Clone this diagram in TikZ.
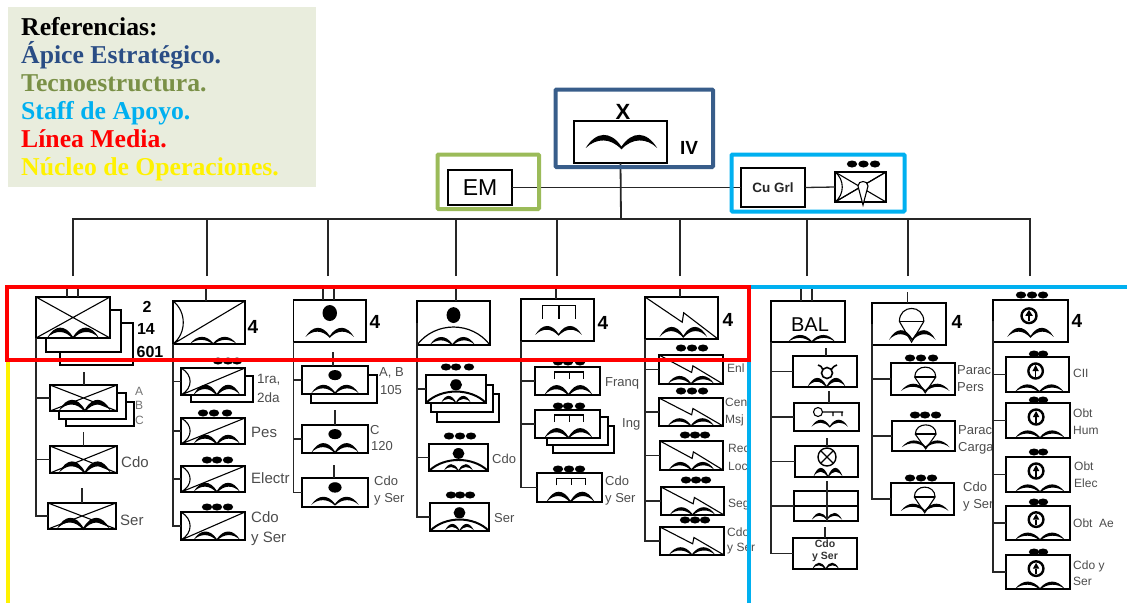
\documentclass[tikz,border=0pt]{standalone}
\usepackage{fontspec}
\setmainfont{Liberation Sans}
\newfontfamily\legendfont{Liberation Serif}
\usetikzlibrary{calc,positioning}
\definecolor{legendbg}{HTML}{E9EDDD}
\definecolor{apice}{HTML}{385D8A}
\definecolor{apicetext}{HTML}{2A4D85}
\definecolor{tecno}{HTML}{9BBB59}
\definecolor{tecnotext}{HTML}{7A9047}
\definecolor{staff}{HTML}{00B0F0}
\tikzstyle{unitbox} = [draw=black, line width=1.4pt, inner sep=0pt, outer sep=0pt]
\tikzstyle{conn}    = [draw=black!85, line width=1.3pt]
\tikzstyle{thin}    = [draw=black, line width=1.1pt]
\tikzstyle{frame}   = [line width=4pt, rounded corners=1pt]
\tikzstyle{lbl}     = [font=\fontsize{13}{17}\selectfont, text=black!70, inner sep=0pt, anchor=west, align=left]
\tikzstyle{tag}     = [font=\bfseries\fontsize{19}{19}\selectfont, inner sep=0pt]
\tikzstyle{refs}    = [font=\legendfont\bfseries\fontsize{25.7}{26}\selectfont, inner sep=0pt, anchor=base west]
% box given by its left, top, right and bottom pixel
\newcommand{\unit}[5]{%
  \pgfmathsetmacro\ucx{(#2+#4)/2}\pgfmathsetmacro\ucy{(#3+#5)/2}%
  \pgfmathsetmacro\uhw{(#4-#2)/2}\pgfmathsetmacro\uhh{(#5-#3)/2}%
  \def\uname{#1}%
  \node[unitbox, minimum width={2*\uhw*1pt}, minimum height={2*\uhh*1pt}] (#1) at (\ucx,\ucy) {};}
\newcommand{\inunit}[1]{\begin{scope}[shift={(\ucx,\ucy)},xscale=\uhw,yscale=\uhh]#1\end{scope}}
\newcommand{\unitstub}[2]{\coordinate (\uname t) at (#1,#2); \draw[conn] (\uname t) -- (\uname t |- \uname.north);}
\newcommand{\unitdots}[2]{\foreach \dotx in {#2} \fill (\dotx,#1) ellipse (5.2 and 3.5);}
% symbols, in the box's own -1..1 frame
\newcommand{\symarcs}[4]{\inunit{\begin{scope}[shift={(#1,#4)},xscale=#2,yscale={#4-#3}]
  \fill (-1,0) .. controls (-.7,-1.33) and (-.3,-1.33) .. (0,-.12) .. controls (.3,-1.33) and (.7,-1.33) .. (1,0)
    .. controls (.7,-.8) and (.3,-.8) .. (0,.1) .. controls (-.3,-.8) and (-.7,-.8) .. (-1,0) -- cycle;
  \end{scope}}}
\newcommand{\symcross}{\inunit{\draw[thin] (-1,-1) -- (1,1) (-1,1) -- (1,-1);}}
\newcommand{\symrecon}{\inunit{\draw[thin] (-1,1) -- (1,-1) (-1,-1) .. controls (-.62,-.5) and (-.62,.5) .. (-1,1);}}
\newcommand{\symdot}[3]{\inunit{\fill (0,#1) ellipse (#2 and #3);}}
\newcommand{\symbig}[1]{\inunit{\draw[thin, line width=#1] (-1,1) .. controls (-.5,-.09) and (.5,-.09) .. (1,1);}}
\newcommand{\symbridge}[3]{\inunit{\draw[thin] (#1-.45,#3) |- (#1+.45,#2) -- (#1+.45,#3) (#1,#2) -- (#1,#3);}}
\newcommand{\symbolt}{\inunit{\draw[thin] (-1,-1) -- (.02,.2) -- (.06,-.25) -- (1,1);}}
\newcommand{\sympara}{\inunit{\draw[thin] (-.26,-.12) .. controls (-.26,-.95) and (.4,-.95) .. (.4,-.12) -- (.07,.86) -- cycle;
  \draw[thin, line width=1.8pt] (-.26,-.12) -- (.4,-.12);}}
\newcommand{\symring}[4]{\inunit{\draw[thin, line width=2.4pt] (#1,#2) ellipse (#3 and #4);
  \draw[thin, line width=1.4pt] (#1,#2+.75*#4) -- (#1,#2);
  \fill (#1-.1,#2) -- (#1,#2-.8*#4) -- (#1+.1,#2) -- cycle;}}
\begin{document}
\begin{tikzpicture}[x=1pt,y=-1pt]
\useasboundingbox (0,0) rectangle (1127,603);

\fill[legendbg] (8,7) rectangle (316,187);
\node[refs] (lgref) at (21,35) {Referencias:};
\node[refs, text=apicetext] (lgapice) at (21,63) {Ápice Estratégico.};
\node[refs, text=tecnotext] (lgtecno) at (21,91.5) {Tecnoestructura.};
\node[refs, text=staff] (lgstaff) at (21,119) {Staff de Apoyo.};
\node[refs, text=red] (lglinea) at (21,147) {Línea Media.};
\node[refs, text=yellow] (lgnucleo) at (21,175) {Núcleo de Operaciones.};

% command
\unit{hq}{574}{121}{667}{163}
\symarcs{.02}{.77}{-.33}{.29}
\node[font=\bfseries\fontsize{22}{22}\selectfont, inner sep=0pt] (hqx) at (623,112) {X};
\node[font=\bfseries\fontsize{19}{19}\selectfont, inner sep=0pt] (hqiv) at (689,148) {IV};
\unit{em}{448}{170}{512}{205}
\node[font=\fontsize{23}{23}\selectfont, inner sep=0pt] (emtxt) at (480,188) {EM};
\unit{cugrl}{741}{168}{805}{207}
\node[font=\bfseries\fontsize{13.5}{14}\selectfont, text=black!85, inner sep=0pt] (cutxt) at (773,188) {Cu Grl};
\unit{cusym}{835}{172}{886}{202}
\symcross \symrecon
\unitdots{164}{852,863.5,875}
\draw[thin, fill=white] (858,186) .. controls (858,180) and (868,180) .. (868,186) -- (863,205) -- cycle;
\draw[conn] (em.east) -- (cugrl.west);
\draw[conn] (cugrl.east) -- (cusym.west);
\coordinate (bus) at (621,219);
\draw[conn, line width=1.8pt] (hq.south) -- (bus);
\foreach \n/\x in {1/73,2/207,3/328,4/456,5/557,6/680,7/807,8/908,9/1030}{
  \coordinate (drop\n) at (\x,276);
  \draw[conn] (drop\n) |- (bus);
}

% first column
\unit{c1}{36}{297}{110}{338}
\symcross \symarcs{0}{.7}{.5}{1}
\coordinate (c1l) at (67,287); \coordinate (c1r) at (78,287);
\draw[conn] (c1l) -- (c1l |- c1.north) (c1r) -- (c1r |- c1.north);
\draw[thin] (110,310) -| (121,352) -| (46,338) (121,323) -| (133,365) -| (60,352);
\node[tag, font=\bfseries\fontsize{16}{16}\selectfont] (c1n2) at (147,307) {2};
\node[tag, font=\bfseries\fontsize{16}{16}\selectfont] (c1n14) at (146,329) {14};
\node[tag, font=\bfseries\fontsize{16}{16}\selectfont] (c1n601) at (150,352) {601};
\unit{c1a}{50}{385}{117}{411}
\symcross \symarcs{.04}{.78}{.15}{1} \unitstub{84}{372}
\draw[thin] (117,393) -| (126,419) -| (59,411) (126,402) -| (134,426) -| (66,419);
\node[lbl, font=\fontsize{12}{12}\selectfont, text=black!55] (c1aa) at (135,391) {A};
\node[lbl, font=\fontsize{12}{12}\selectfont, text=black!55] (c1ab) at (135,405) {B};
\node[lbl, font=\fontsize{12}{12}\selectfont, text=black!55] (c1ac) at (135,420) {C};
\unit{c1b}{50}{446}{117}{473}
\symcross \symarcs{.04}{.78}{.15}{1} \unitstub{83.5}{432}
\node[lbl, font=\fontsize{15}{15}\selectfont] (c1bl) at (121,462) {Cdo};
\unit{c1c}{48}{503}{116}{529}
\symcross \symarcs{.04}{.78}{.15}{1} \unitstub{82}{488}
\node[lbl, font=\fontsize{15}{15}\selectfont] (c1cl) at (120,520) {Ser};
\foreach \s in {a,b,c} \draw[conn] (c1.south west) |- (c1\s.west);

% second column
\unit{c2}{173}{301}{245}{344}
\symrecon \symarcs{.12}{.65}{.67}{1} \unitstub{206}{287}
\node[tag] (c2n) at (253,327) {4};
\unit{c2a}{181}{368}{245}{395}
\symrecon \symarcs{.12}{.73}{.25}{1} \unitdots{361}{218,228,237}
\draw[thin] (245,376) -| (253,402) -| (191,395);
\node[lbl, font=\fontsize{13.5}{19}\selectfont] (c2al) at (257,388) {1ra,\\2da};
\unit{c2b}{181}{418}{245}{444}
\symrecon \symarcs{.12}{.73}{.3}{1} \unitdots{413}{203,214,227}
\node[lbl, font=\fontsize{15}{15}\selectfont] (c2bl) at (251,432) {Pes};
\unit{c2c}{181}{466}{245}{492}
\symrecon \symarcs{.12}{.73}{.3}{1} \unitdots{460}{207,217,228}
\node[lbl, font=\fontsize{15}{15}\selectfont] (c2cl) at (251,478) {Electr};
\unit{c2d}{181}{512}{245}{540}
\symrecon \symarcs{.12}{.73}{.4}{1} \unitdots{507}{207,217,228}
\node[lbl, font=\fontsize{15}{20}\selectfont] (c2dl) at (251,529) {Cdo\\y Ser};
\foreach \s in {a,b,c,d} \draw[conn] (c2.south west) |- (c2\s.west);

% third column
\unit{c3}{293.5}{300}{366}{342}
\symdot{-.38}{.2}{.38} \symarcs{0}{.67}{.33}{.76}
\coordinate (c3l) at (323,287); \coordinate (c3r) at (334,287);
\draw[conn] (c3l) -- (c3l |- c3.north) (c3r) -- (c3r |- c3.north);
\node[tag] (c3n) at (375,322) {4};
\unit{c3a}{302}{366}{368}{394}
\symdot{-.35}{.2}{.36} \symarcs{0}{.72}{.35}{.95} \unitstub{333}{352}
\draw[thin] (368,375) -| (377,403) -| (311,394);
\node[lbl] (c3al) at (379,373) {A, B};
\node[lbl] (c3am) at (380,390) {105};
\unit{c3b}{302}{425}{368}{453}
\symdot{-.35}{.2}{.36} \symarcs{0}{.72}{.3}{.98} \unitstub{335}{410}
\node[lbl] (c3bl) at (370,430) {C};
\node[lbl] (c3bm) at (371,446) {120};
\unit{c3c}{302}{478}{368}{507}
\symdot{-.35}{.2}{.36} \symarcs{0}{.72}{.3}{.85} \unitstub{334}{465}
\node[lbl] (c3cl) at (374,491) {Cdo\\y Ser};
\foreach \s in {a,b,c} \draw[conn] (c3.south west) |- (c3\s.west);

% fourth column
\unit{c4}{417}{301}{490}{345}
\symdot{-.36}{.19}{.36} \symbig{1.2pt} \symarcs{-.03}{.62}{.64}{1} \unitstub{456}{287}
\unit{c4a}{426}{375}{486}{403}
\symdot{-.3}{.2}{.4} \symbig{2pt} \symarcs{0}{.5}{.5}{1} \unitdots{367}{446,456,469}
\draw[thin] (486,385) -| (493,412) -| (431,403) (493,394) -| (499,422) -| (437,412);
\unit{c4b}{429}{444}{488}{471}
\symdot{-.3}{.2}{.4} \symbig{2pt} \symarcs{0}{.5}{.5}{1} \unitdots{436}{449,460,471}
\node[lbl] (c4bl) at (492,459) {Cdo};
\unit{c4c}{430}{503}{489}{531}
\symdot{-.3}{.2}{.4} \symbig{2pt} \symarcs{0}{.5}{.5}{1} \unitdots{495}{451,460,470}
\node[lbl] (c4cl) at (494,518) {Ser};
\foreach \s in {a,b,c} \draw[conn] (c4.west) |- (c4\s.west);

% fifth column
\unit{c5}{521}{299}{594}{341}
\symbridge{.04}{-.67}{-.05} \symarcs{.03}{.64}{.29}{.71} \unitstub{556}{287}
\node[tag] (c5n) at (603,323) {4};
\unit{c5a}{535}{367}{600}{395}
\symbridge{.05}{-.64}{-.14} \symarcs{.03}{.74}{.3}{1} \unitdots{362}{558,568,580}
\node[lbl] (c5al) at (605,383) {Franq};
\unit{c5b}{535}{410}{600}{438}
\symbridge{.05}{-.64}{-.14} \symarcs{.03}{.74}{.3}{1} \unitdots{406}{558,568,580}
\draw[thin] (600,417) -| (608,445) -| (547,438) (608,426) -| (614,453) -| (553,445);
\node[lbl] (c5bl) at (622,424) {Ing};
\unit{c5c}{537}{473}{602}{502}
\symbridge{.05}{-.64}{-.14} \symarcs{.03}{.74}{.3}{1} \unitdots{469}{558,569,580}
\node[lbl] (c5cl) at (605,491) {Cdo\\y Ser};
\foreach \s in {a,b,c} \draw[conn] (c5.south west) |- (c5\s.west);

% sixth column
\unit{c6}{645}{297}{718}{339}
\symbolt \symarcs{.05}{.65}{.43}{.9} \unitstub{680}{287}
\node[tag] (c6n) at (728,320) {4};
\unit{c6a}{659}{355}{723}{384}
\symbolt \symarcs{0}{.73}{.45}{1} \unitdots{348}{681,692,703}
\node[lbl, font=\fontsize{12}{12}\selectfont] (c6al) at (727,368) {Enl};
\unit{c6b}{659}{398}{723}{426}
\symbolt \symarcs{0}{.73}{.45}{1} \unitdots{391}{681,692,703}
\node[lbl, font=\fontsize{12}{17}\selectfont] (c6bl) at (725,412.5) {Cen\\Msj};
\unit{c6c}{660}{441}{723}{470}
\symbolt \symarcs{0}{.73}{.45}{1} \unitdots{435}{685,695,705}
\node[lbl, font=\fontsize{12}{18}\selectfont] (c6cl) at (728,457) {Rec\\Loc};
\unit{c6d}{661}{487}{724}{515}
\symbolt \symarcs{0}{.73}{.45}{1} \unitdots{480}{686,696,706}
\node[lbl, font=\fontsize{12}{12}\selectfont] (c6dl) at (728,505) {Seg};
\unit{c6e}{660}{527}{724}{555}
\symbolt \symarcs{0}{.73}{.45}{1} \unitdots{520}{685,695,705}
\node[lbl, font=\fontsize{12}{15}\selectfont] (c6el) at (727,540.5) {Cdo\\y Ser};
\foreach \s in {a,b,c,d,e} \draw[conn] (c6.south west) |- (c6\s.west);

% seventh column
\unit{c7}{771}{301}{845}{342}
\symarcs{.1}{.64}{.66}{1}
\coordinate (c7l) at (801,287); \coordinate (c7r) at (812,287);
\draw[conn] (c7l) -- (c7l |- c7.north) (c7r) -- (c7r |- c7.north);
\node[font=\fontsize{20}{20}\selectfont, inner sep=0pt] (c7txt) at (810,325) {BAL};
\unit{c7a}{793}{356}{857}{387}
\symarcs{.05}{.6}{.42}{1} \unitstub{826}{348}
\draw[thin, line width=1.6pt, fill=white] (827,373) circle (5.5);
\draw[thin, line width=1.6pt] (823,370) .. controls (821,366) .. (818,365) (831,370) .. controls (834,366) .. (837,365);
\unit{c7b}{794}{403}{859}{431}
\symarcs{.1}{.56}{.2}{.7} \unitstub{829}{391}
\draw[thin] (818,412) circle (4.5) (822.5,412) -- (843,412) (833,412) -- (833,416) (842,412) -- (842,416);
\unit{c7c}{795}{446}{858}{477}
\symarcs{.05}{.47}{.42}{1} \unitstub{827}{438}
\draw[thin, line width=1.4pt] (827,457) circle (9);
\draw[thin] (820.5,450.5) -- (833.5,463.5) (820.5,463.5) -- (833.5,450.5);
\unit{c7d}{794}{491}{858}{521}
\symarcs{.03}{.47}{.47}{.9}
\inunit{\draw[thin] (-1,0) -- (1,0);}
\coordinate (c7dt) at (827,481); \draw[conn] (c7dt) -- (c7dt |- c7d.south);
\unit{c7e}{793}{538}{857}{569}
\symarcs{.02}{.42}{.6}{1} \unitstub{825}{527}
\node[font=\bfseries\fontsize{10.5}{12.5}\selectfont, text=black!80, inner sep=0pt, align=center] (c7etxt) at (825,551) {Cdo\\y Ser};
\foreach \s in {a,b,c,d,e} \draw[conn] (c7.south west) |- (c7\s.west);

% eighth column
\unit{c8}{872}{303}{946}{345}
\sympara \symarcs{.09}{.63}{.3}{.75} \unitstub{907.5}{292}
\node[tag] (c8n) at (957,322) {4};
\unit{c8a}{891}{363}{955}{395}
\sympara \symarcs{.07}{.76}{.3}{.75} \unitdots{358}{910,921,933}
\node[lbl] (c8al) at (957,378.5) {Parac\\Pers};
\unit{c8b}{892}{421}{955}{451}
\sympara \symarcs{.07}{.76}{.3}{.75} \unitdots{415}{915,925,936}
\node[lbl] (c8bl) at (958,439.5) {Parac\\Carga};
\unit{c8c}{891}{483}{954}{515}
\sympara \symarcs{.07}{.76}{.3}{.75} \unitdots{478}{910,921,932}
\node[lbl] (c8cl) at (963,496.5) {Cdo\\y Ser};
\foreach \s in {a,b,c} \draw[conn] (c8.west) |- (c8\s.west);

% ninth column
\unit{c9}{993}{300}{1068}{342}
\symring{-.04}{-.25}{.2}{.35} \symarcs{0}{.62}{.33}{.76} \unitdots{295}{1021,1032,1043}
\node[tag] (c9n) at (1077,321) {4};
\unit{c9a}{1006}{357}{1069}{392}
\symring{-.06}{-.2}{.23}{.43} \symarcs{.06}{.78}{.57}{1} \unitdots{354}{1034,1043}
\node[lbl, font=\fontsize{12}{12}\selectfont] (c9al) at (1073,373) {CII};
\unit{c9b}{1006}{403}{1070}{438}
\symring{-.06}{-.2}{.23}{.43} \symarcs{.06}{.78}{.57}{1} \unitdots{400}{1034,1043}
\node[lbl, font=\fontsize{12}{17}\selectfont] (c9bl) at (1073,421.5) {Obt\\Hum};
\unit{c9c}{1006}{457}{1070}{492}
\symring{-.06}{-.2}{.23}{.43} \symarcs{.06}{.78}{.57}{1} \unitdots{452}{1034,1043}
\node[lbl, font=\fontsize{12}{17}\selectfont] (c9cl) at (1074,474.5) {Obt\\Elec};
\unit{c9d}{1006}{506}{1070}{540}
\symring{-.06}{-.2}{.23}{.43} \symarcs{.06}{.78}{.57}{1} \unitdots{502}{1034,1043}
\node[lbl, font=\fontsize{12}{12}\selectfont] (c9dl) at (1073,523) {Obt\ \ Ae};
\unit{c9e}{1006}{555}{1070}{589}
\symring{-.06}{-.2}{.23}{.43} \symarcs{.06}{.78}{.57}{1} \unitdots{552}{1034,1043}
\node[lbl, font=\fontsize{12}{16}\selectfont] (c9el) at (1073,573) {Cdo y\\Ser};
\foreach \s in {a,b,c,d,e} \draw[conn] (c9.west) |- (c9\s.west);

% coloured frames
\draw[frame, draw=apice] (555.5,89.5) rectangle (713,167);
\draw[frame, draw=tecno] (437.5,154.5) rectangle (539,209);
\draw[frame, draw=staff] (731.5,154.5) rectangle (904.5,211.5);
\draw[line width=4pt, draw=yellow] (7.5,360) -- (7.5,603);
\draw[line width=4pt, draw=staff] (748.5,603) |- (1127,286.5);
\draw[line width=4pt, draw=red] (7,287) rectangle (749,360);
\end{tikzpicture}
\end{document}
